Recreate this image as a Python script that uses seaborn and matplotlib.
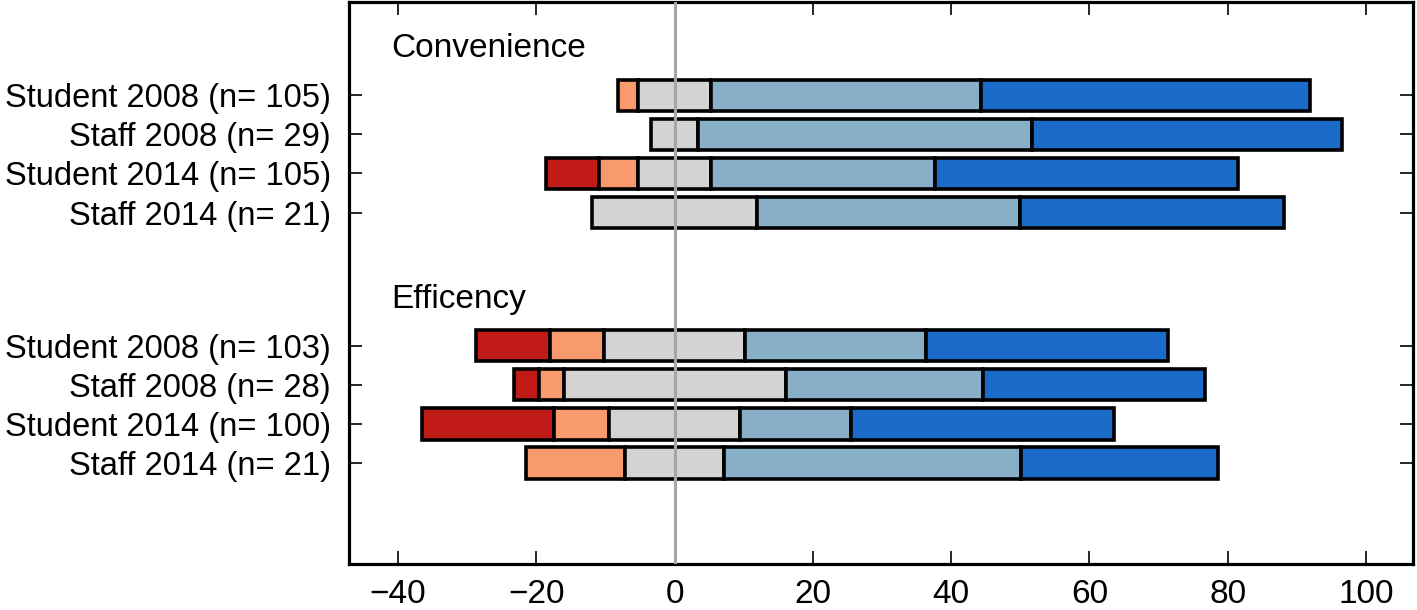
import numpy as np
import pandas as pd
import matplotlib
matplotlib.use("Agg")
import matplotlib.pyplot as plt
import seaborn as sns

# survey rows, top to bottom
labels = ["Student 2008 (n= 105)", "Staff 2008 (n= 29)",
          "Student 2014 (n= 105)", "Staff 2014 (n= 21)",
          "Student 2008 (n= 103)", "Staff 2008 (n= 28)",
          "Student 2014 (n= 100)", "Staff 2014 (n= 21)"]
groups = ["Convenience", "Efficency"]

# percent of answers in each category
strongly_disagree = [0, 0, 7.6, 0, 10.7, 3.6, 19.0, 0]
disagree = [2.9, 0, 5.7, 0, 7.8, 3.6, 8.0, 14.3]
neutral = [10.5, 6.9, 10.5, 23.8, 20.4, 32.1, 19.0, 14.3]
agree = [39.0, 48.3, 32.4, 38.1, 26.2, 28.6, 16.0, 42.9]
strongly_agree = [47.6, 44.8, 43.8, 38.1, 35.0, 32.1, 38.0, 28.6]

colors = ["#C01B17", "#F99A6D", "#D3D3D1", "#88AFC8", "#196BC7"]

sns.set_style("ticks", {"text.color": "black", "xtick.color": "black",
                        "ytick.color": "black", "axes.edgecolor": "black",
                        "axes.labelcolor": "black"})
plt.rcParams["font.family"] = ["Liberation Sans", "DejaVu Sans"]

# row positions: 4 rows per group with a gap between groups
gap = 2.4
pos = np.array([i + (gap if i >= 4 else 0) for i in range(len(labels))], dtype=float)

segs = np.array([strongly_disagree, disagree, neutral, agree, strongly_agree])
start = -(segs[0] + segs[1] + segs[2] / 2)
lefts = start + np.vstack([np.zeros(len(labels)), np.cumsum(segs, axis=0)[:-1]])

fig = plt.figure(figsize=(14.17, 6.10), dpi=100)
ax = fig.add_axes([0.2463, 0.0754, 0.9972 - 0.2463, 0.9967 - 0.0754])

for k in range(5):
    df = pd.DataFrame({"pos": pos, "width": segs[k], "left": lefts[k]})
    df = df[df["width"] > 0].sort_values("pos")
    sns.barplot(data=df, x="width", y="pos", orient="y", native_scale=True,
                left=df["left"].to_numpy(), color=colors[k], saturation=1,
                width=0.8, edgecolor="black", linewidth=2.6, errorbar=None, ax=ax)

ax.axvline(0, color="#A6A6A6", lw=2.2, zorder=5)

ax.text(-41, -1.18, groups[0], fontsize=24, va="center", ha="left", color="black")
ax.text(-41, 5.22, groups[1], fontsize=24, va="center", ha="left", color="black")

ax.set_xlim(-47.1, 106.8)
ax.set_ylim(pos[-1] + 2.58, -2.38)
ax.set_xticks(range(-40, 101, 20))
ax.set_yticks(pos, labels)
ax.set_xlabel("")
ax.set_ylabel("")
ax.tick_params(axis="x", direction="in", length=9.5, width=1.2, top=True,
               labelsize=24, pad=11, colors="black")
ax.tick_params(axis="y", direction="in", length=9.5, width=1.2, right=True,
               labelsize=23.5, pad=13, colors="black")
for s in ax.spines.values():
    s.set_visible(True)
    s.set_linewidth(2.3)
    s.set_color("black")

fig.savefig("out.png", dpi=100)
